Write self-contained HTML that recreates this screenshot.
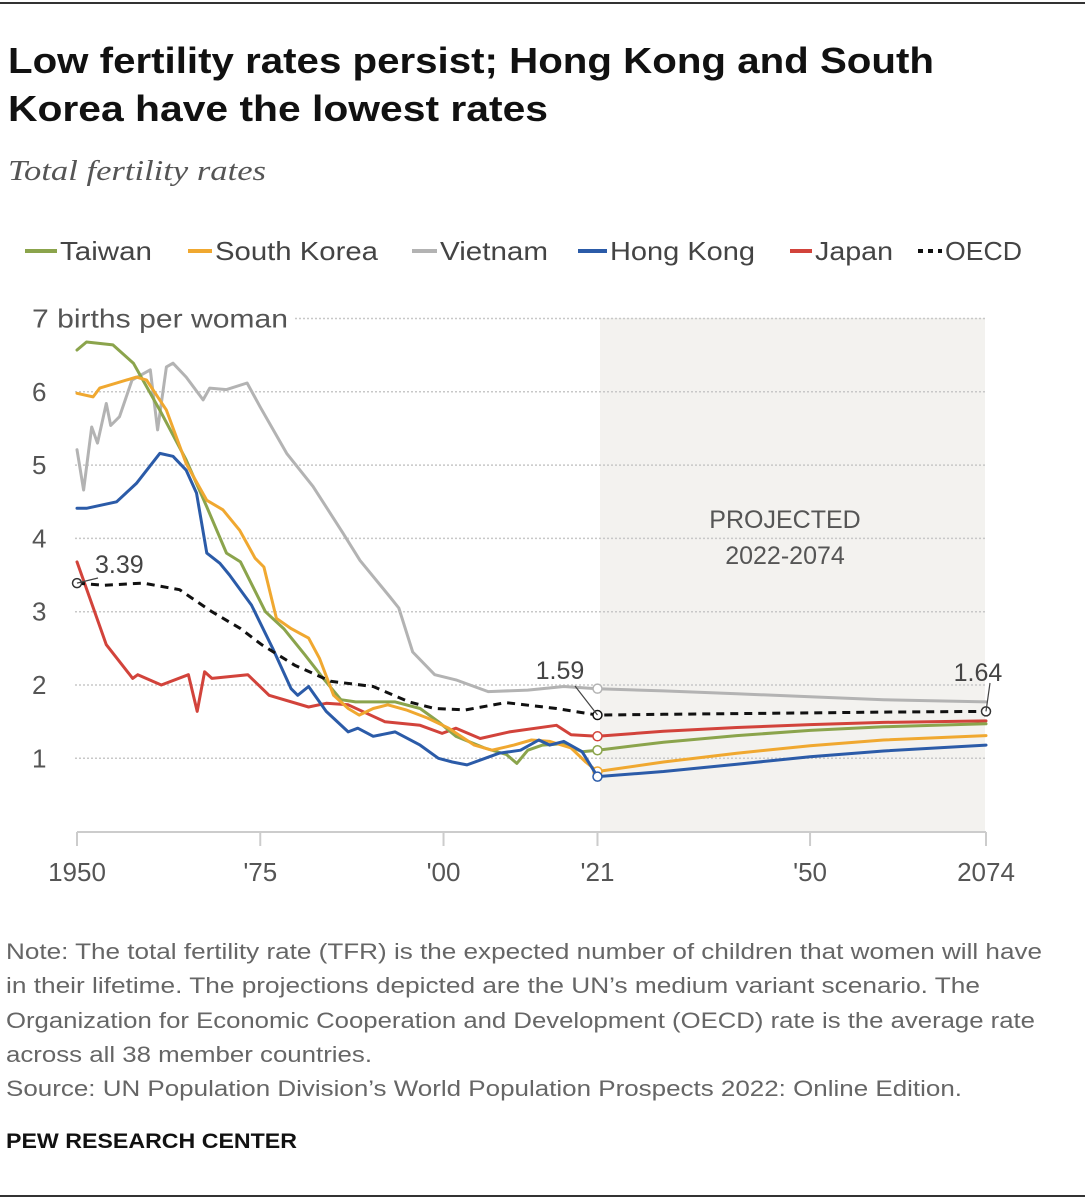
<!DOCTYPE html>
<html><head><meta charset="utf-8"><style>
html,body{margin:0;padding:0;background:#fff;}
svg{display:block;font-family:"Liberation Sans",sans-serif;}
</style></head><body>
<svg id="chart" width="1085" height="1200" viewBox="0 0 1085 1200" xmlns="http://www.w3.org/2000/svg">
<line x1="0" y1="3" x2="1085" y2="3" stroke="#333" stroke-width="2"/>
<text x="8" y="73" font-size="36" font-weight="bold" fill="#111" textLength="926" lengthAdjust="spacingAndGlyphs">Low fertility rates persist; Hong Kong and South</text>
<text x="8" y="121" font-size="36" font-weight="bold" fill="#111" textLength="540" lengthAdjust="spacingAndGlyphs">Korea have the lowest rates</text>
<text x="8" y="180" font-size="28" font-style="italic" font-family="Liberation Serif, serif" fill="#555" textLength="258" lengthAdjust="spacingAndGlyphs">Total fertility rates</text>
<g id="legend"></g>
<rect x="600" y="318" width="385" height="514" fill="#f3f2ef"/>
<text x="785" y="528" font-size="25" fill="#555" text-anchor="middle">PROJECTED</text>
<text x="785" y="564" font-size="25" fill="#555" text-anchor="middle">2022-2074</text>
<g id="grid"></g>
<g id="axes"></g>
<g id="series"></g>
<g id="annot"></g>
<g font-size="22" fill="#666">
<text x="6" y="959" textLength="1036" lengthAdjust="spacingAndGlyphs">Note: The total fertility rate (TFR) is the expected number of children that women will have</text>
<text x="6" y="993" textLength="974" lengthAdjust="spacingAndGlyphs">in their lifetime. The projections depicted are the UN’s medium variant scenario. The</text>
<text x="6" y="1028" textLength="1029" lengthAdjust="spacingAndGlyphs">Organization for Economic Cooperation and Development (OECD) rate is the average rate</text>
<text x="6" y="1062" textLength="366" lengthAdjust="spacingAndGlyphs">across all 38 member countries.</text>
<text x="6" y="1096" textLength="956" lengthAdjust="spacingAndGlyphs">Source: UN Population Division’s World Population Prospects 2022: Online Edition.</text>
</g>
<text x="6" y="1148" font-size="21" font-weight="bold" fill="#111" textLength="291" lengthAdjust="spacingAndGlyphs">PEW RESEARCH CENTER</text>
<line x1="0" y1="1196" x2="1085" y2="1196" stroke="#333" stroke-width="2"/>
</svg>
<script>
const seriesNames = ["Taiwan","South Korea","Vietnam","Hong Kong","Japan","OECD"];
const seriesColors = ["#8ba44c","#f0a830","#b3b3b3","#2b5ba8","#d2433b","#111"];
const yTicks = [1,2,3,4,5,6,7];
const xTicks = [1950,1975,2000,2021,2050,2074];
const xTickLabels = ["1950","'75","'00","'21","'50","2074"];
const taiwanYears = [1950,1951.3,1954.9,1957.7,1961.3,1964.9,1967.7,1970.4,1972.3,1975.7,1978.2,1981.1,1983.6,1986,1988,1993.4,1996.8,1999.3,2001.7,2005.6,2008.6,2010,2011.5,2013.5,2016.4,2018.9,2021,2030,2040,2050,2060,2074];
const taiwanValues = [6.57,6.68,6.64,6.39,5.75,5.07,4.43,3.8,3.68,3.0,2.77,2.41,2.09,1.8,1.77,1.77,1.68,1.5,1.3,1.14,1.05,0.93,1.11,1.18,1.2,1.09,1.11,1.22,1.31,1.38,1.43,1.47];
const koreaYears = [1950,1952.2,1953.1,1958.1,1959.5,1962.2,1964.9,1967.7,1969.9,1972.2,1974.3,1975.5,1977.2,1979.2,1981.6,1983.1,1985,1987,1988.5,1990.4,1992.4,1994.9,1997.8,2000.7,2004.2,2006.6,2009.6,2012,2014.5,2017.4,2019.4,2021,2030,2040,2050,2060,2074];
const koreaValues = [5.98,5.93,6.05,6.2,6.16,5.75,5.02,4.52,4.39,4.11,3.73,3.61,2.91,2.77,2.64,2.36,1.86,1.68,1.59,1.68,1.73,1.66,1.55,1.41,1.18,1.11,1.18,1.25,1.23,1.14,0.95,0.82,0.95,1.07,1.17,1.25,1.31];
const vietnamYears = [1950,1950.9,1952,1952.8,1954,1954.6,1955.8,1957.5,1960,1961,1962.2,1963.1,1964.9,1967.2,1968.1,1970.4,1973.2,1975,1978.6,1982.2,1986.3,1988.6,1992.7,1993.9,1995.8,1998.8,2001.7,2006.1,2011.5,2016.4,2021,2030,2040,2050,2060,2074];
const vietnamValues = [5.21,4.66,5.52,5.3,5.84,5.54,5.66,6.16,6.3,5.48,6.34,6.39,6.2,5.89,6.05,6.03,6.12,5.79,5.16,4.71,4.07,3.7,3.2,3.05,2.45,2.14,2.07,1.91,1.93,1.98,1.95,1.92,1.88,1.84,1.8,1.77];
const hkYears = [1950,1951.3,1955.4,1958.1,1961.3,1963.1,1964.9,1966.3,1967.7,1969.5,1970.8,1973.8,1976.7,1979.2,1980.1,1981.6,1984,1987,1988.3,1990.4,1993.4,1996.8,1999.3,2001.2,2003.2,2007.6,2010.5,2013,2014.5,2016.4,2018.9,2021,2030,2040,2050,2060,2074];
const hkValues = [4.41,4.41,4.5,4.75,5.16,5.12,4.93,4.62,3.8,3.66,3.5,3.09,2.5,1.95,1.86,1.98,1.64,1.36,1.41,1.3,1.36,1.18,1.0,0.95,0.91,1.07,1.11,1.25,1.18,1.23,1.09,0.75,0.82,0.92,1.02,1.1,1.18];
const japanYears = [1950,1954,1957.6,1958.3,1961.5,1965.2,1966.4,1967.4,1968.4,1973.3,1976.2,1981.6,1984,1987,1992,1996.8,1999.8,2001.7,2005,2009,2015.4,2017.4,2021,2030,2040,2050,2060,2074];
const japanValues = [3.68,2.55,2.09,2.14,2.0,2.14,1.64,2.18,2.09,2.14,1.86,1.7,1.75,1.73,1.5,1.45,1.34,1.41,1.27,1.36,1.45,1.32,1.3,1.37,1.42,1.46,1.49,1.51];
const oecdYears = [1950,1953.7,1959,1964,1968.4,1972.3,1975.2,1979.7,1984.6,1990.4,1995.3,1998.8,2003,2008.5,2015.4,2021,2030,2040,2050,2060,2074];
const oecdValues = [3.39,3.36,3.39,3.3,3.0,2.77,2.55,2.27,2.05,1.98,1.77,1.68,1.66,1.76,1.68,1.59,1.6,1.61,1.62,1.63,1.64];
const allYears = [taiwanYears,koreaYears,vietnamYears,hkYears,japanYears,oecdYears];
const allValues = [taiwanValues,koreaValues,vietnamValues,hkValues,japanValues,oecdValues];
const labelValues = [3.39,1.59,1.64];

const NS="http://www.w3.org/2000/svg";
const X0=77,X1=986,Y0=831.6,UNIT=73.3;
function xs(yr){return X0+(yr-1950)*(X1-X0)/124;}
function ys(v){return Y0-v*UNIT;}
function mk(tag,attrs,parent){const e=document.createElementNS(NS,tag);for(const k in attrs)e.setAttribute(k,attrs[k]);parent.appendChild(e);return e;}
const grid=document.getElementById('grid'),axes=document.getElementById('axes'),series=document.getElementById('series'),annot=document.getElementById('annot'),legend=document.getElementById('legend');

yTicks.forEach(t=>{
  const gx = t===7?295:75;
  const l=mk('line',{x1:gx,x2:X1,y1:ys(t),y2:ys(t),stroke:'#c8c8c8','stroke-width':1.5,'stroke-dasharray':'2,2'},grid);
  
  
  const at={x:32,y:ys(t)+9,'font-size':26,fill:'#555'};
  if(t===7){at.textLength=256;at.lengthAdjust='spacingAndGlyphs';}
  const tx=mk('text',at,axes);
  tx.textContent = t===7 ? '7  births per woman' : String(t);
  
  
});
mk('line',{x1:X0,x2:X1,y1:832,y2:832,stroke:'#ccc','stroke-width':2},axes);
xTicks.forEach((t,i)=>{
  const l=mk('line',{x1:xs(t),x2:xs(t),y1:832,y2:846,stroke:'#ccc','stroke-width':2},axes);
  
  
  const tx=mk('text',{x:xs(t),y:881,'font-size':26,fill:'#555','text-anchor':'middle'},axes);
  tx.textContent=xTickLabels[i];
  
  
});

const drawOrder=[2,4,0,1,3,5];
drawOrder.forEach(i=>{
  const pts=allYears[i].map((yr,j)=>xs(yr).toFixed(1)+','+ys(allValues[i][j]).toFixed(1)).join(' ');
  const attrs={points:pts,fill:'none',stroke:seriesColors[i],'stroke-width':3,'stroke-linejoin':'round','stroke-linecap':'round'};
  if(i===5){attrs['stroke-dasharray']='8,6';attrs['stroke-linecap']='butt';}
  const p=mk('polyline',attrs,series);
  
  
  const k=allYears[i].indexOf(2021);
  const c=mk('circle',{cx:xs(2021),cy:ys(allValues[i][k]),r:4.5,fill:'#fff',stroke:seriesColors[i],'stroke-width':1.5},series);
  
  
});
[[1950,labelValues[0]],[2074,labelValues[2]]].forEach(([yr,v])=>{
  const c=mk('circle',{cx:xs(yr),cy:ys(v),r:4.5,fill:'#fff',stroke:'#333','stroke-width':1.5},series);
  
  
});
const ann=[[1950,labelValues[0],95,573,118,572],[2021,labelValues[1],560,679,575,686],[2074,labelValues[2],978,681,990,683]];
ann.forEach(([yr,v,tx,ty,lx,ly],i)=>{
  mk('line',{x1:xs(yr),y1:ys(v),x2:lx-(i===0?20:0),y2:ly+(i===0?6:0),stroke:'#444','stroke-width':1.2},annot);
  const t=mk('text',{x:tx,y:ty,'font-size':25,fill:'#444','text-anchor':i===0?'start':'middle'},annot);
  t.textContent=v.toFixed(2);
  
  
});
const legX=[25,188,412,578,790,918];
const legTX=[60,215,440,610,815,945];
const legTW=[92,163,108,145,78,77];
seriesNames.forEach((n,i)=>{
  const g=mk('g',{},legend);
  
  
  const la={x1:legX[i],x2:legTX[i]-3,y1:251,y2:251,stroke:seriesColors[i],'stroke-width':4};
  if(i===5)la['stroke-dasharray']='5,5';
  mk('line',la,g);
  const t=mk('text',{x:legTX[i],y:260,'font-size':26,fill:'#444',textLength:legTW[i],lengthAdjust:'spacingAndGlyphs'},g);
  t.textContent=n;
});
</script>
</body></html>
